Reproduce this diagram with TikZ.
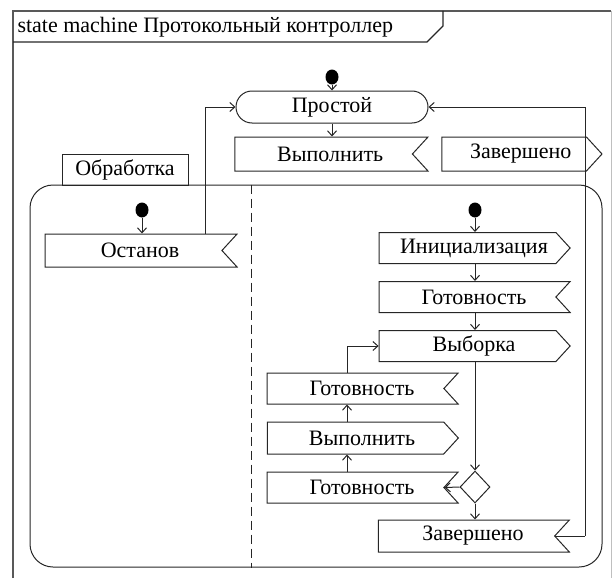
\documentclass[tikz,border=0pt]{standalone}
\usepackage{fontspec}
\setmainfont{Liberation Serif}
\usetikzlibrary{shapes,shapes.symbols,shapes.geometric,shapes.misc,arrows.meta,positioning}

\tikzset{
  sendsig/.style={signal, signal to=east, signal pointer angle=95, draw,
    minimum width=191pt, minimum height=31pt, inner sep=0pt,
    execute at begin node={\hspace*{13pt}}},
  recvsig/.style={signal, signal to=nowhere, signal from=east, signal pointer angle=95,
    draw, minimum width=191pt, minimum height=31pt, inner sep=0pt,
    execute at begin node={\hspace*{13pt}}},
  startdot/.style={ellipse, fill=black, minimum width=13pt, minimum height=15pt, inner sep=0pt},
  idle/.style={rounded rectangle, draw, minimum width=192pt, minimum height=32pt, inner sep=0pt},
  choice/.style={diamond, draw, minimum width=30pt, minimum height=32pt, inner sep=0pt},
  tr/.style={-{Straight Barb[length=5pt,width=9pt]}},
  frame/.style={draw=black!65, line width=1.6pt},
}

\begin{document}
\begin{tikzpicture}[x=1pt, y=-1pt, line width=1pt, draw=black!85,
    font=\fontsize{22pt}{26pt}\selectfont, node distance=17pt]
  \useasboundingbox (0,0) rectangle (615,578);

  % frame of the diagram
  \draw[frame] (13,578) -- (13,11) -- (611,11);
  \draw[draw=black!25, line width=1pt] (611,11) -- (611,578);
  \draw[line width=1.2pt] (13,42) -- (427,42) -- (443,26) -- (443,11);
  \node[anchor=west, inner sep=0pt] (title) at (17,27) {state machine Протокольный контроллер};

  % top level
  \node[startdot] (top0) at (332,77) {};
  \node[idle] (prost) at (332,107) {Простой};
  \node[recvsig, minimum width=193pt, minimum height=34pt] (vyp1) at (323.7,154) {Выполнить};
  \node[sendsig, minimum width=160pt, minimum height=34pt] (zav1) at (514.2,154) {Завершено};

  % composite state
  \node[draw, minimum width=126pt, minimum height=31pt, inner sep=0pt] (tab) at (125,169.5) {Обработка};
  \node[draw, rounded corners=23pt, minimum width=572pt, minimum height=382pt] (proc) at (316,376) {};
  \draw[dash pattern=on 9pt off 5pt] ([xshift=222pt]proc.north west) -- ([xshift=222pt]proc.south west);

  % left region
  \node[startdot] (left0) at (142,210) {};
  \node[recvsig, minimum width=192pt, minimum height=33pt] (ost) at (133.5,250.5) {Останов};

  % right region
  \node[startdot] (right0) at (475,210) {};
  \node[sendsig] (init) at (467.5,248) {Инициализация};
  \node[recvsig, below=of init] (got1) {Готовность};
  \node[sendsig, below=of got1] (vyb) {Выборка};
  \node[recvsig] (got3) at (355.5,487.5) {Готовность};
  \node[sendsig, minimum height=32pt, above=of got3] (vyp2) {Выполнить};
  \node[recvsig, above=of vyp2] (got2) {Готовность};
  \node[choice] (dec) at (475,487) {};
  \node[recvsig, minimum height=32pt] (zav2) at (466.5,536) {Завершено};
  \coordinate (rb) at (585,536);

  \draw[tr] (top0) -- (prost);
  \draw[tr] (prost.south) -- (prost.south |- vyp1.north);
  \draw[tr] (left0) -- (left0 |- ost.north);
  \draw[tr] ([xshift=71.5pt]ost.north) |- (prost.west);
  \draw[tr] (right0) -- (right0 |- init.north);
  \draw[tr] (right0 |- init.south) -- (right0 |- got1.north);
  \draw[tr] (right0 |- got1.south) -- (right0 |- vyb.north);
  \draw[tr] (dec |- vyb.south) -- (dec.north);
  \draw[tr] (dec.west) -- (got3.east);
  \draw[tr] ([xshift=-8.5pt]got3.north) -- ([xshift=-8.5pt]vyp2.south);
  \draw[tr] ([xshift=-8.5pt]vyp2.north) -- ([xshift=-8.5pt]got2.south);
  \draw[tr] ([xshift=-8.5pt]got2.north) |- (vyb.west);
  \draw[tr] (dec.south) -- (dec.south |- zav2.north);
  \draw (zav2.east) -- (rb);
  \draw[tr] (rb) |- (prost.east);
\end{tikzpicture}
\end{document}
